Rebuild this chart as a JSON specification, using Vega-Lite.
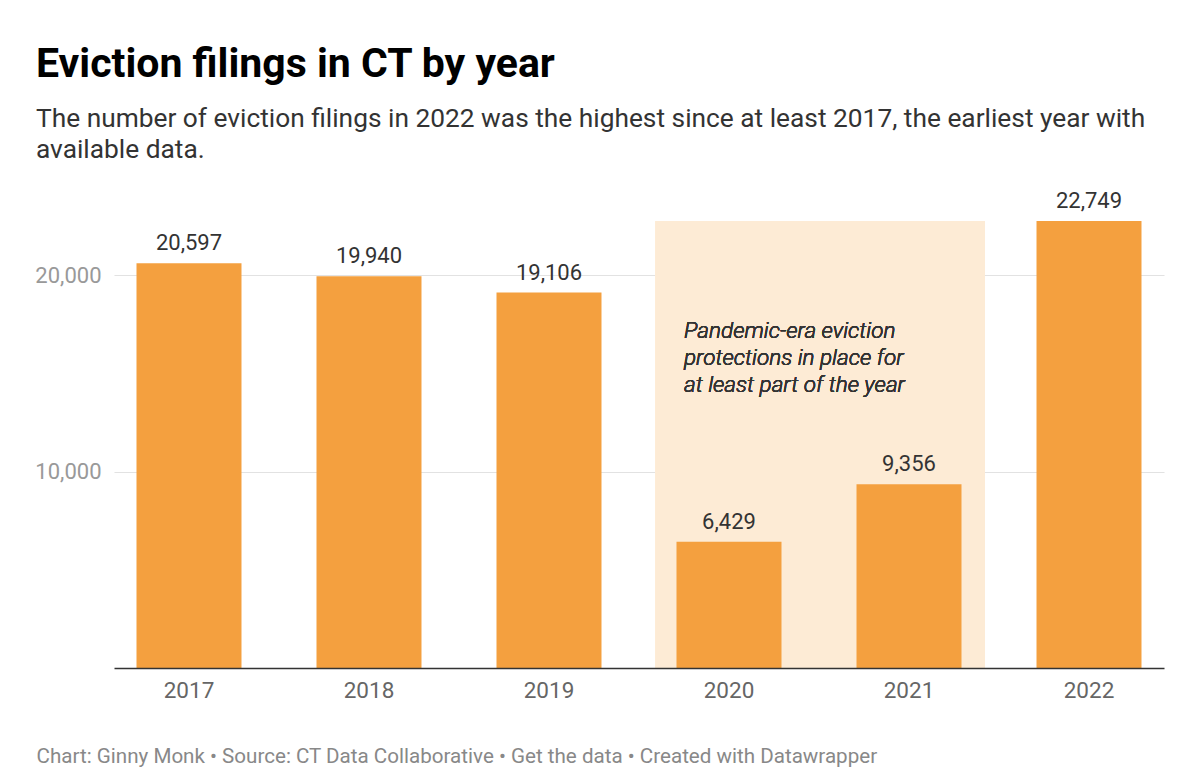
{
  "$schema": "https://vega.github.io/schema/vega-lite/v6.json",
  "width": 1050,
  "height": 447,
  "padding": {"left": 34, "right": 35, "top": 43, "bottom": 10},
  "background": "white",
  "config": {
    "view": {"stroke": null},
    "font": "Roboto"
  },
  "title": {
    "text": "Eviction filings in CT by year",
    "subtitle": ["The number of eviction filings in 2022 was the highest since at least 2017, the earliest year with", "available data."],
    "anchor": "start",
    "frame": "group",
    "dx": -78,
    "offset": 26,
    "font": "Roboto",
    "fontSize": 41,
    "fontWeight": "bold",
    "color": "#000000",
    "subtitleFont": "Roboto",
    "subtitleFontSize": 26.3,
    "subtitleColor": "#333333",
    "subtitleLineHeight": 31,
    "subtitlePadding": 20
  },
  "data": {
    "values": [
      {"year": "2017", "filings": 20597},
      {"year": "2018", "filings": 19940},
      {"year": "2019", "filings": 19106},
      {"year": "2020", "filings": 6429},
      {"year": "2021", "filings": 9356},
      {"year": "2022", "filings": 22749}
    ]
  },
  "encoding": {
    "x": {
      "field": "year",
      "type": "ordinal",
      "scale": {"paddingInner": 0.4167, "paddingOuter": 0.125},
      "axis": {
        "title": "Chart: Ginny Monk • Source: CT Data Collaborative • Get the data • Created with Datawrapper",
        "titleAnchor": "start",
        "titleAlign": "left",
        "titleX": -78,
        "titleY": 94,
        "titleBaseline": "alphabetic",
        "titleFont": "Roboto",
        "titleFontSize": 20.6,
        "titleFontWeight": "normal",
        "titleColor": "#888888",
        "labelAngle": 0,
        "labelFont": "Roboto",
        "labelFontSize": 22.5,
        "labelColor": "#666666",
        "labelPadding": 11,
        "ticks": false,
        "tickSize": 0,
        "domainColor": "#333333",
        "domainWidth": 1.5
      }
    },
    "y": {
      "field": "filings",
      "type": "quantitative",
      "scale": {"domain": [0, 22749], "nice": false},
      "axis": {
        "title": null,
        "values": [10000, 20000],
        "labelExpr": "format(datum.value, ',')",
        "labelFont": "Roboto",
        "labelFontSize": 22,
        "labelColor": "#999999",
        "labelPadding": 13,
        "ticks": false,
        "domain": false,
        "gridColor": "#e2e2e2",
        "gridWidth": 1.2,
        "minExtent": 78,
        "maxExtent": 78
      }
    }
  },
  "layer": [
    {
      "mark": {"type": "rect", "color": "#fdebd5", "xOffset": -21, "x2Offset": 23},
      "encoding": {
        "x": {"datum": "2020", "type": "ordinal", "bandPosition": 0},
        "x2": {"datum": "2021", "bandPosition": 1},
        "y": {"datum": 22749, "type": "quantitative"},
        "y2": {"datum": 0}
      }
    },
    {
      "mark": {"type": "bar", "color": "#f4a03f"}
    },
    {
      "mark": {"type": "text", "font": "Roboto", "fontSize": 22, "color": "#333333", "baseline": "alphabetic", "dy": -13},
      "encoding": {
        "text": {"field": "filings", "type": "quantitative", "format": ","}
      }
    },
    {
      "mark": {
        "type": "text",
        "text": ["Pandemic-era eviction", "protections in place for", "at least part of the year"],
        "font": "Roboto",
        "fontSize": 22.5,
        "fontStyle": "italic",
        "fontWeight": 300,
        "color": "#333333",
        "align": "left",
        "baseline": "alphabetic",
        "lineHeight": 27,
        "dx": 7.5
      },
      "encoding": {
        "x": {"datum": "2020", "type": "ordinal", "bandPosition": 0},
        "y": {"datum": 16800, "type": "quantitative"}
      }
    }
  ]
}
